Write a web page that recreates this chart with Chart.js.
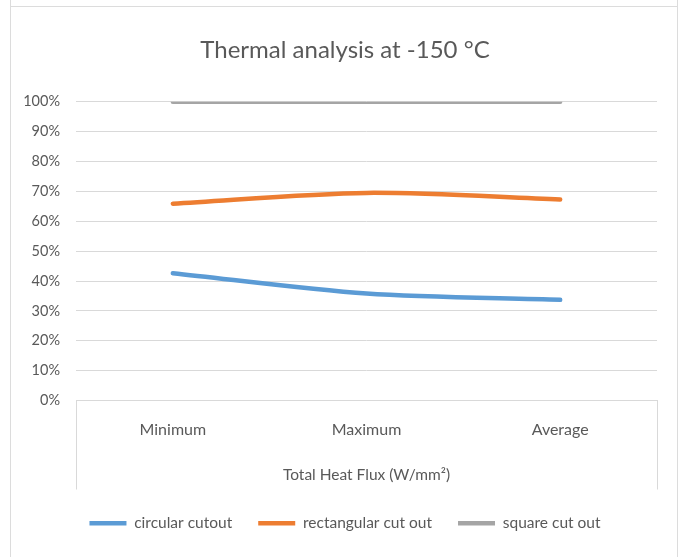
<!DOCTYPE html>
<html>
<head>
<meta charset="utf-8">
<script src="https://cdn.jsdelivr.net/npm/chart.js@4.4.0/dist/chart.umd.min.js"></script>
<style>
  html, body { margin: 0; padding: 0; background: #fff; }
  #wrap { position: relative; width: 680px; height: 557px; overflow: hidden; }
  .frame { position: absolute; border: 1px solid #dcdcdc; }
  canvas { position: absolute; left: 0; top: 0; }
</style>
</head>
<body>
<div id="wrap">
  <div class="frame" style="left:10px; top:-5px; width:666px; height:10px;"></div>
  <div class="frame" style="left:10px; top:6px; width:666px; height:560px;"></div>
  <canvas id="thermal-chart" width="680" height="557"></canvas>
</div>
<script>
const categories = ['Minimum', 'Maximum', 'Average'];
const circular = [42.6, 35.8, 33.7];
const rectangular = [65.9, 69.5, 67.3];
const square = [100, 100, 100];
const yTicks = [0, 10, 20, 30, 40, 50, 60, 70, 80, 90, 100];

const FONT = 'Lato, "Open Sans", sans-serif';
const TEXT = '#595959';
const GRID = '#d9d9d9';

// the open box under the plot area (Excel category axis frame)
const axisBox = {
  id: 'axisBox',
  afterDraw(chart) {
    const {ctx, chartArea} = chart;
    ctx.save();
    ctx.strokeStyle = GRID;
    ctx.lineWidth = 1;
    ctx.beginPath();
    ctx.moveTo(chartArea.left + 0.5, chartArea.bottom);
    ctx.lineTo(chartArea.left + 0.5, chartArea.bottom + 89);
    ctx.moveTo(chartArea.right + 0.5, chartArea.bottom);
    ctx.lineTo(chartArea.right + 0.5, chartArea.bottom + 89);
    ctx.stroke();
    ctx.restore();
  }
};

// title and legend sit a bit right of the canvas centre, like in the Excel original
const shiftBoxes = {
  id: 'shiftBoxes',
  afterLayout(chart) {
    chart.titleBlock.left += 33;
    chart.legend.left += 33;
  }
};

const data = {
  labels: categories,
  datasets: [{
    label: 'circular cutout',
    data: circular,
    borderColor: '#5b9bd5',
    backgroundColor: '#5b9bd5',
  }, {
    label: 'rectangular cut out',
    data: rectangular,
    borderColor: '#ed7d31',
    backgroundColor: '#ed7d31',
  }, {
    label: 'square cut out',
    data: square,
    borderColor: '#a5a5a5',
    backgroundColor: '#a5a5a5',
  }].map(d => Object.assign(d, {
    borderWidth: 4.5,
    borderCapStyle: 'round',
    pointRadius: 0,
    tension: 0.3,
    fill: false,
  }))
};

const config = {
  type: 'line',
  data: data,
  plugins: [axisBox, shiftBoxes],
  options: {
    responsive: false,
    animation: false,
    layout: { padding: { top: 0, left: 0, right: 23, bottom: 16 } },
    plugins: {
      title: {
        display: true,
        text: 'Thermal analysis at -150 °C',
        color: TEXT,
        font: { family: FONT, size: 24, weight: 'normal' },
        padding: { top: 36, bottom: 37 },
      },
      legend: {
        position: 'bottom',
        labels: {
          color: TEXT,
          font: { family: FONT, size: 15.5 },
          usePointStyle: true,
          pointStyleWidth: 37,
          pointStyle: 'line',
          padding: 26,
        },
      },
      tooltip: { enabled: false },
    },
    scales: {
      x: {
        offset: true,
        grid: { display: false, drawTicks: false },
        border: { display: true, color: GRID },
        ticks: { color: TEXT, font: { family: FONT, size: 16 }, padding: 20 },
        title: {
          display: true,
          text: 'Total Heat Flux (W/mm²)',
          color: TEXT,
          font: { family: FONT, size: 15.5 },
          padding: { top: 20, bottom: 5 },
        },
        afterFit(scale) { scale.height = 89; },
      },
      y: {
        min: 0,
        max: 100,
        afterBuildTicks(scale) { scale.ticks = yTicks.map(v => ({ value: v })); },
        grid: { color: GRID, drawTicks: false },
        border: { display: false },
        ticks: {
          color: TEXT,
          font: { family: FONT, size: 14.5 },
          padding: 16,
          callback: v => v + '%',
        },
        afterFit(scale) { scale.width = 76; },
      },
    },
  },
};

const ctx = document.getElementById('thermal-chart').getContext('2d');
const chart = new Chart(ctx, config);
</script>
</body>
</html>
